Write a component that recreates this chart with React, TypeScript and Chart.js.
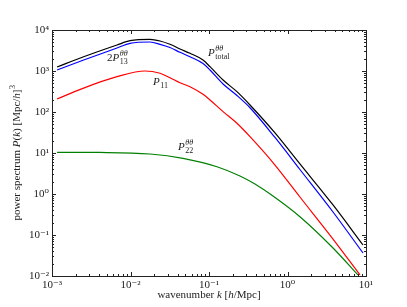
import { useEffect, useRef } from 'react';
import { Chart, registerables } from 'chart.js';

Chart.register(...registerables);

// ---- data ----
const kTotal = [0.00116, 0.00248, 0.00673, 0.00986, 0.0177, 0.0238, 0.0318, 0.0427, 0.0573, 0.0839, 0.103, 0.151, 0.227, 0.333, 0.693, 1.44, 3.8, 9.16];
const pTotal = [1253, 2193, 4305, 5480, 5930, 5400, 4480, 3440, 2700, 1855, 1274, 603, 313, 148, 30.8, 5.4, 0.54, 0.057];

const k13 = [0.00116, 0.00248, 0.00673, 0.00986, 0.0177, 0.0238, 0.0318, 0.0427, 0.0573, 0.0839, 0.103, 0.151, 0.227, 0.333, 0.693, 1.44, 3.8, 9.16];
const p13 = [1057, 1824, 3640, 4740, 5090, 4480, 3740, 2860, 2230, 1524, 1057, 482, 253, 127, 23.9, 3.96, 0.364, 0.0364];

const k11 = [0.00116, 0.00248, 0.00673, 0.0153, 0.0238, 0.0318, 0.0427, 0.0573, 0.0839, 0.103, 0.151, 0.227, 0.333, 0.693, 1.44, 3.8, 8.39];
const p11 = [207, 378, 726, 1000, 879, 687, 519, 414, 270, 196, 102, 53.0, 25.0, 5.09, 0.845, 0.0798, 0.0106];

const k22 = [0.00116, 0.00408, 0.0177, 0.0467, 0.1265, 0.248, 0.385, 0.653, 1.44, 3.8, 7.91];
const p22 = [10.4, 10.3, 9.46, 7.43, 4.63, 2.75, 1.75, 0.893, 0.279, 0.0482, 0.0106];

const xTicks = [1e-3, 1e-2, 1e-1, 1, 10];
const xTickLabels = ['10⁻³', '10⁻²', '10⁻¹', '10⁰', '10¹'];
const yTicks = [1e-2, 1e-1, 1, 10, 100, 1000, 10000];
const yTickLabels = ['10⁻²', '10⁻¹', '10⁰', '10¹', '10²', '10³', '10⁴'];

// ---- styling / text ----
const SERIF = '"Liberation Serif", "DejaVu Serif", serif';
const FS = 11;
const SUB = 8;

type Seg = { t?: string; it?: boolean; sub?: string; sup?: string };

const annotations: { k: number; p: number; segs: Seg[] }[] = [
  { k: 0.00502, p: 2075, segs: [{ t: '2' }, { t: 'P', it: true }, { sub: '13', sup: 'θθ' }] },
  { k: 0.0971, p: 2750, segs: [{ t: 'P', it: true }, { sub: 'total', sup: 'θθ' }] },
  { k: 0.0194, p: 540, segs: [{ t: 'P', it: true }, { sub: '11' }] },
  { k: 0.0403, p: 14.0, segs: [{ t: 'P', it: true }, { sub: '22', sup: 'θθ' }] },
];

const xTitle: Seg[] = [{ t: 'wavenumber ' }, { t: 'k', it: true }, { t: ' [' }, { t: 'h', it: true }, { t: '/Mpc]' }];
const yTitle: Seg[] = [
  { t: 'power spectrum ' }, { t: 'P', it: true }, { t: '(' }, { t: 'k', it: true }, { t: ') [Mpc/' }, { t: 'h', it: true }, { t: ']' }, { sup: '3' },
];

function font(size: number, it?: boolean) {
  return `${it ? 'italic ' : ''}${size}px ${SERIF}`;
}

function segWidth(ctx: CanvasRenderingContext2D, s: Seg) {
  if (s.t !== undefined) {
    ctx.font = font(FS, s.it);
    return ctx.measureText(s.t).width;
  }
  let w = 0;
  if (s.sub) { ctx.font = font(SUB, false); w = Math.max(w, ctx.measureText(s.sub).width); }
  if (s.sup) { ctx.font = font(SUB, s.sup !== '3'); w = Math.max(w, ctx.measureText(s.sup).width); }
  return w;
}

function drawRich(ctx: CanvasRenderingContext2D, segs: Seg[], x: number, y: number, center: boolean) {
  const total = segs.reduce((a, s) => a + segWidth(ctx, s), 0);
  let cx = center ? x - total / 2 : x;
  ctx.textBaseline = 'middle';
  ctx.textAlign = 'left';
  for (const s of segs) {
    const w = segWidth(ctx, s);
    if (s.t !== undefined) {
      ctx.font = font(FS, s.it);
      ctx.fillText(s.t, cx, y);
    } else {
      if (s.sub) { ctx.font = font(SUB, false); ctx.fillText(s.sub, cx + 0.5, y + 3.5); }
      if (s.sup) { ctx.font = font(SUB, s.sup !== '3'); ctx.fillText(s.sup, cx + 0.5, y - 4.5); }
    }
    cx += w;
  }
}

const framePlugin = {
  id: 'framePlugin',
  afterDatasetsDraw(chart: any) {
    const { ctx, chartArea: a, scales } = chart;
    const xs = scales.x, ys = scales.y;
    ctx.save();
    ctx.strokeStyle = '#222';
    ctx.lineWidth = 1;
    ctx.strokeRect(Math.round(a.left) + 0.5, Math.round(a.top) + 0.5, Math.round(a.right - a.left), Math.round(a.bottom - a.top));
    ctx.beginPath();
    for (let e = -3; e <= 1; e++) {
      for (let m = 1; m <= 9; m++) {
        const v = m * Math.pow(10, e);
        if (v > 10.0001) continue;
        const px = Math.round(xs.getPixelForValue(v)) + 0.5;
        const len = m === 1 ? 4 : 2;
        ctx.moveTo(px, a.bottom); ctx.lineTo(px, a.bottom - len);
        ctx.moveTo(px, a.top); ctx.lineTo(px, a.top + len);
      }
    }
    for (let e = -2; e <= 4; e++) {
      for (let m = 1; m <= 9; m++) {
        const v = m * Math.pow(10, e);
        if (v > 10000.001) continue;
        const py = Math.round(ys.getPixelForValue(v)) + 0.5;
        const len = m === 1 ? 4 : 2;
        ctx.moveTo(a.left, py); ctx.lineTo(a.left + len, py);
        ctx.moveTo(a.right, py); ctx.lineTo(a.right - len, py);
      }
    }
    ctx.stroke();

    ctx.fillStyle = '#222';
    for (const an of annotations) {
      drawRich(ctx, an.segs, xs.getPixelForValue(an.k), ys.getPixelForValue(an.p), false);
    }
    drawRich(ctx, xTitle, (a.left + a.right) / 2, 295, true);
    ctx.save();
    ctx.translate(17, (a.top + a.bottom) / 2);
    ctx.rotate(-Math.PI / 2);
    drawRich(ctx, yTitle, 0, 0, true);
    ctx.restore();
    ctx.restore();
  },
};

function series(label: string, k: number[], p: number[], color: string) {
  return {
    label,
    data: k.map((x, i) => ({ x, y: p[i] })),
    borderColor: color,
    backgroundColor: color,
    borderWidth: 1.2,
    pointRadius: 0,
    fill: false,
    cubicInterpolationMode: 'monotone' as const,
  };
}

export default function App() {
  const ref = useRef<HTMLCanvasElement>(null);
  useEffect(() => {
    if (!ref.current) return;
    const chart = new Chart(ref.current, {
      type: 'line',
      data: {
        datasets: [
          series('P22', k22, p22, '#008000'),
          series('P11', k11, p11, '#ff0000'),
          series('2P13', k13, p13, '#0000ff'),
          series('Ptotal', kTotal, pTotal, '#000000'),
        ],
      },
      options: {
        animation: false,
        responsive: false,
        parsing: false as any,
        layout: { padding: { top: 30, right: 41, left: 0, bottom: 0 } },
        plugins: { legend: { display: false }, tooltip: { enabled: false } },
        scales: {
          x: {
            type: 'logarithmic',
            min: 1e-3,
            max: 10,
            grid: { display: false, drawTicks: false },
            border: { display: false },
            afterBuildTicks: (s: any) => { s.ticks = xTicks.map((v) => ({ value: v })); },
            afterFit: (s: any) => { s.height = 31; },
            ticks: {
              autoSkip: false,
              maxRotation: 0,
              padding: 3,
              color: '#222',
              font: { family: SERIF, size: FS },
              callback: (v: any) => { const i = xTicks.findIndex((t) => Math.abs(t - v) / t < 1e-6); return i >= 0 ? xTickLabels[i] : ''; },
            },
          },
          y: {
            type: 'logarithmic',
            min: 1e-2,
            max: 1e4,
            grid: { display: false, drawTicks: false },
            border: { display: false },
            afterBuildTicks: (s: any) => { s.ticks = yTicks.map((v) => ({ value: v })); },
            afterFit: (s: any) => { s.width = 52; },
            ticks: {
              autoSkip: false,
              padding: 3,
              color: '#222',
              font: { family: SERIF, size: FS },
              callback: (v: any) => { const i = yTicks.findIndex((t) => Math.abs(t - v) / t < 1e-6); return i >= 0 ? yTickLabels[i] : ''; },
            },
          },
        },
      } as any,
      plugins: [framePlugin],
    });
    return () => chart.destroy();
  }, []);
  return (
    <div style={{ position: 'absolute', left: 0, top: 0, width: 407, height: 307, background: '#fff' }}>
      <canvas ref={ref} width={407} height={307} style={{ display: 'block' }} />
    </div>
  );
}
